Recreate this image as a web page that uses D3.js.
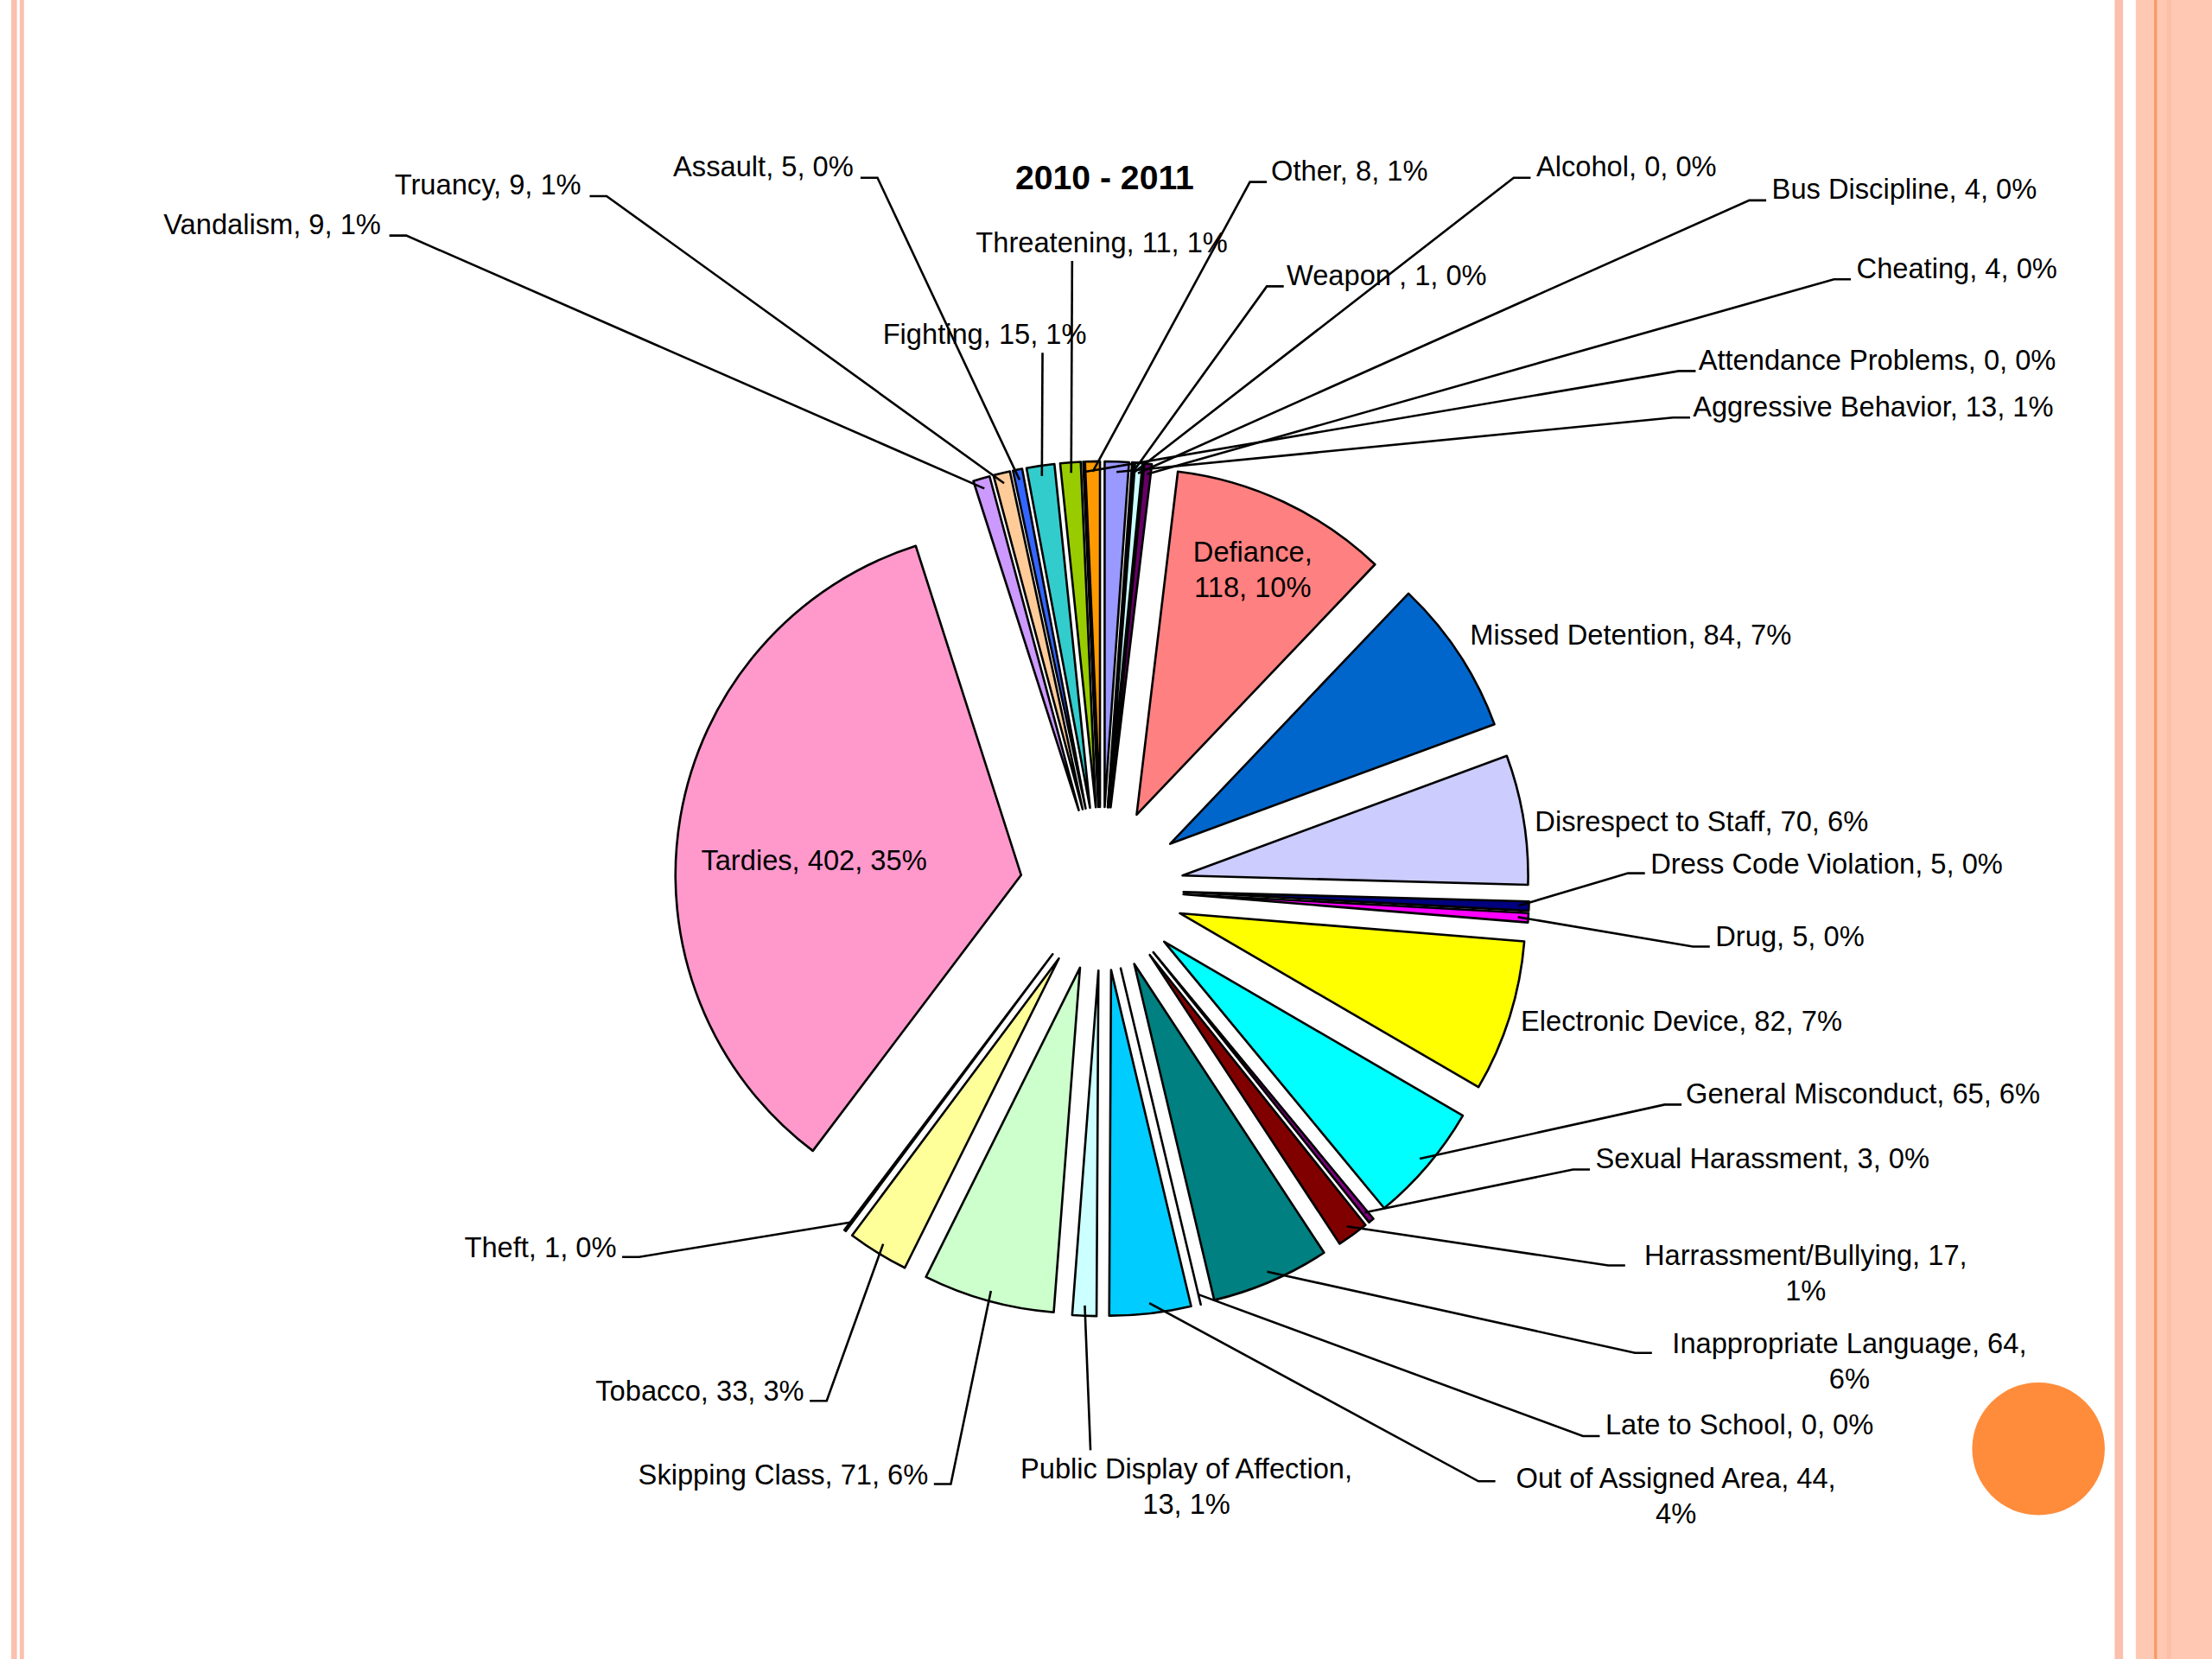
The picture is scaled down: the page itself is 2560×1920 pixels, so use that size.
<!DOCTYPE html>
<html><head><meta charset="utf-8">
<script src="https://cdn.jsdelivr.net/npm/d3@7"></script>
<style>body{margin:0;background:#fff}svg{display:block}</style>
</head><body>
<svg id="chart" width="2560" height="1920" viewBox="0 0 1568 1176"></svg>
<script>
// categories in the order Excel draws them, clockwise from 12 o'clock
var categories = ["Aggressive Behavior","Weapon ","Alcohol","Bus Discipline","Cheating","Defiance","Missed Detention",
  "Disrespect to Staff","Dress Code Violation","Drug","Electronic Device","General Misconduct","Sexual Harassment",
  "Harrassment/Bullying","Inappropriate Language","Late to School","Out of Assigned Area","Public Display of Affection",
  "Skipping Class","Tobacco","Theft","Tardies","Vandalism","Truancy","Assault","Fighting","Threatening",
  "Attendance Problems","Other"];
var counts = [13,1,0,4,4,118,84,70,5,5,82,65,3,17,64,0,44,13,71,33,1,402,9,9,5,15,11,0,8];
var percents = ["1%","0%","0%","0%","0%","10%","7%","6%","0%","0%","7%","6%","0%","1%","6%","0%","4%","1%","6%","3%","0%","35%","1%","1%","0%","1%","1%","0%","1%"];
var colors = ["#9999FF","#993366","#FFFFCC","#CCFFFF","#660066","#FF8080","#0066CC","#CCCCFF","#000080","#FF00FF",
  "#FFFF00","#00FFFF","#800080","#800000","#008080","#0000FF","#00CCFF","#CCFFFF","#CCFFCC","#FFFF99","#99CCFF",
  "#FF99CC","#CC99FF","#FFCC99","#3366FF","#33CCCC","#99CC00","#FFCC00","#FF9900"];

// label layout: [x, y, anchor, leaderX, leaderY, lines]
var labelLayout = {
  "Aggressive Behavior":[1200,288,"start",1198,296],
  "Weapon ":[912,195,"start",910,203],
  "Alcohol":[1089,118,"start",1085,126],
  "Bus Discipline":[1256,134,"start",1252,142],
  "Cheating":[1316,190,"start",1312,198],
  "Defiance":[888,391,"middle",null,null,2],
  "Missed Detention":[1042,450,"start"],
  "Disrespect to Staff":[1088,582,"start"],
  "Dress Code Violation":[1170,612,"start",1166,619],
  "Drug":[1216,664,"start",1212,671],
  "Electronic Device":[1078,724,"start"],
  "General Misconduct":[1195,775,"start",1192,783],
  "Sexual Harassment":[1131,821,"start",1127,829],
  "Harrassment/Bullying":[1280,890,"middle",1152,897,2],
  "Inappropriate Language":[1311,952,"middle",1171,959,2],
  "Late to School":[1138,1010,"start",1134,1018],
  "Out of Assigned Area":[1188,1048,"middle",1060,1050,2],
  "Public Display of Affection":[841,1041,"middle",773,1028,2],
  "Skipping Class":[658,1045,"end",662,1052],
  "Tobacco":[570,986,"end",574,993],
  "Theft":[437,884,"end",441,891],
  "Tardies":[577,610,"middle"],
  "Vandalism":[270,159,"end",276,167],
  "Truancy":[412,131,"end",418,139],
  "Assault":[605,118,"end",610,126],
  "Fighting":[698,237,"middle",739,250],
  "Threatening":[781,172,"middle",760,185],
  "Attendance Problems":[1204,255,"start",1202,263],
  "Other":[901,121,"start",898,129]
};

var svg = d3.select("#chart");
// slide frame
svg.append("rect").attr("x",0).attr("y",0).attr("width",1568).attr("height",1176).attr("fill","#fff");
svg.append("rect").attr("x",8).attr("y",0).attr("width",4).attr("height",1176).attr("fill","#FCC0AE");
svg.append("rect").attr("x",14).attr("y",0).attr("width",3).attr("height",1176).attr("fill","#FCC0AE");
svg.append("rect").attr("x",1499).attr("y",0).attr("width",6).attr("height",1176).attr("fill","#FCC0AE");
svg.append("rect").attr("x",1514).attr("y",0).attr("width",54).attr("height",1176).attr("fill","#FEC8B2");
svg.append("rect").attr("x",1527).attr("y",0).attr("width",2).attr("height",1176).attr("fill","#F79A62");
svg.append("rect").attr("x",1536).attr("y",0).attr("width",3).attr("height",1176).attr("fill","#FDBFA6");
svg.append("circle").attr("cx",1445).attr("cy",1027).attr("r",47).attr("fill","#FF8C3A");

var data = categories.map(function(c,i){ return {name:c, value:counts[i], pct:percents[i], color:colors[i]}; });
var cx = 781, cy = 630, R = 245, explode = 58;
var pie = d3.pie().sort(null).value(function(d){ return d.value; });
var arc = d3.arc().innerRadius(0).outerRadius(R);
var arcs = pie(data);

function offset(a){
  var m = (a.startAngle + a.endAngle)/2;
  return [Math.sin(m)*explode, -Math.cos(m)*explode];
}

var g = svg.append("g").attr("transform","translate("+cx+","+cy+")");
g.selectAll("path.slice").data(arcs).enter().append("path")
  .attr("class","slice")
  .attr("d",arc)
  .attr("transform",function(a){ var o=offset(a); return "translate("+o[0]+","+o[1]+")"; })
  .attr("fill",function(a){ return a.data.color; })
  .attr("stroke","#000").attr("stroke-width",1.6).attr("stroke-linejoin","round");

// leader lines
arcs.forEach(function(a){
  var L = labelLayout[a.data.name];
  if (!L || L[3] == null) return;
  var m = (a.startAngle + a.endAngle)/2, o = offset(a);
  var px = cx + o[0] + Math.sin(m)*R*0.97, py = cy + o[1] - Math.cos(m)*R*0.97;
  var pts;
  if (L[2] === "middle" && (a.data.name === "Fighting" || a.data.name === "Threatening" || a.data.name.indexOf("Public") === 0)) {
    pts = [[px,py],[L[3],L[4]]];
  } else {
    var dir = (L[2] === "end") ? 1 : -1;
    pts = [[px,py],[L[3]+dir*12,L[4]],[L[3],L[4]]];
  }
  svg.append("path").attr("d",d3.line()(pts)).attr("fill","none").attr("stroke","#000").attr("stroke-width",1.6);
});

// labels
arcs.forEach(function(a){
  var L = labelLayout[a.data.name];
  var t = svg.append("text").attr("x",L[0]).attr("y",L[1]+7).attr("text-anchor",L[2])
    .attr("font-family","Liberation Sans, Arial, sans-serif").attr("font-size",20).attr("fill","#000");
  if (L[5] === 2) {
    var first, second;
    if (a.data.name === "Defiance") { first = "Defiance,"; second = a.data.value+", "+a.data.pct; }
    else if (a.data.name.indexOf("Public") === 0) { first = "Public Display of Affection,"; second = a.data.value+", "+a.data.pct; }
    else { first = a.data.name+", "+a.data.value+","; second = a.data.pct; }
    t.append("tspan").attr("x",L[0]).text(first);
    t.append("tspan").attr("x",L[0]).attr("dy",25).text(second);
  } else {
    t.text(a.data.name+", "+a.data.value+", "+a.data.pct);
  }
});

svg.append("text").attr("x",783).attr("y",134).attr("text-anchor","middle")
  .attr("font-family","Liberation Sans, Arial, sans-serif").attr("font-size",24).attr("font-weight","bold")
  .text("2010 - 2011");
</script>
</body></html>
